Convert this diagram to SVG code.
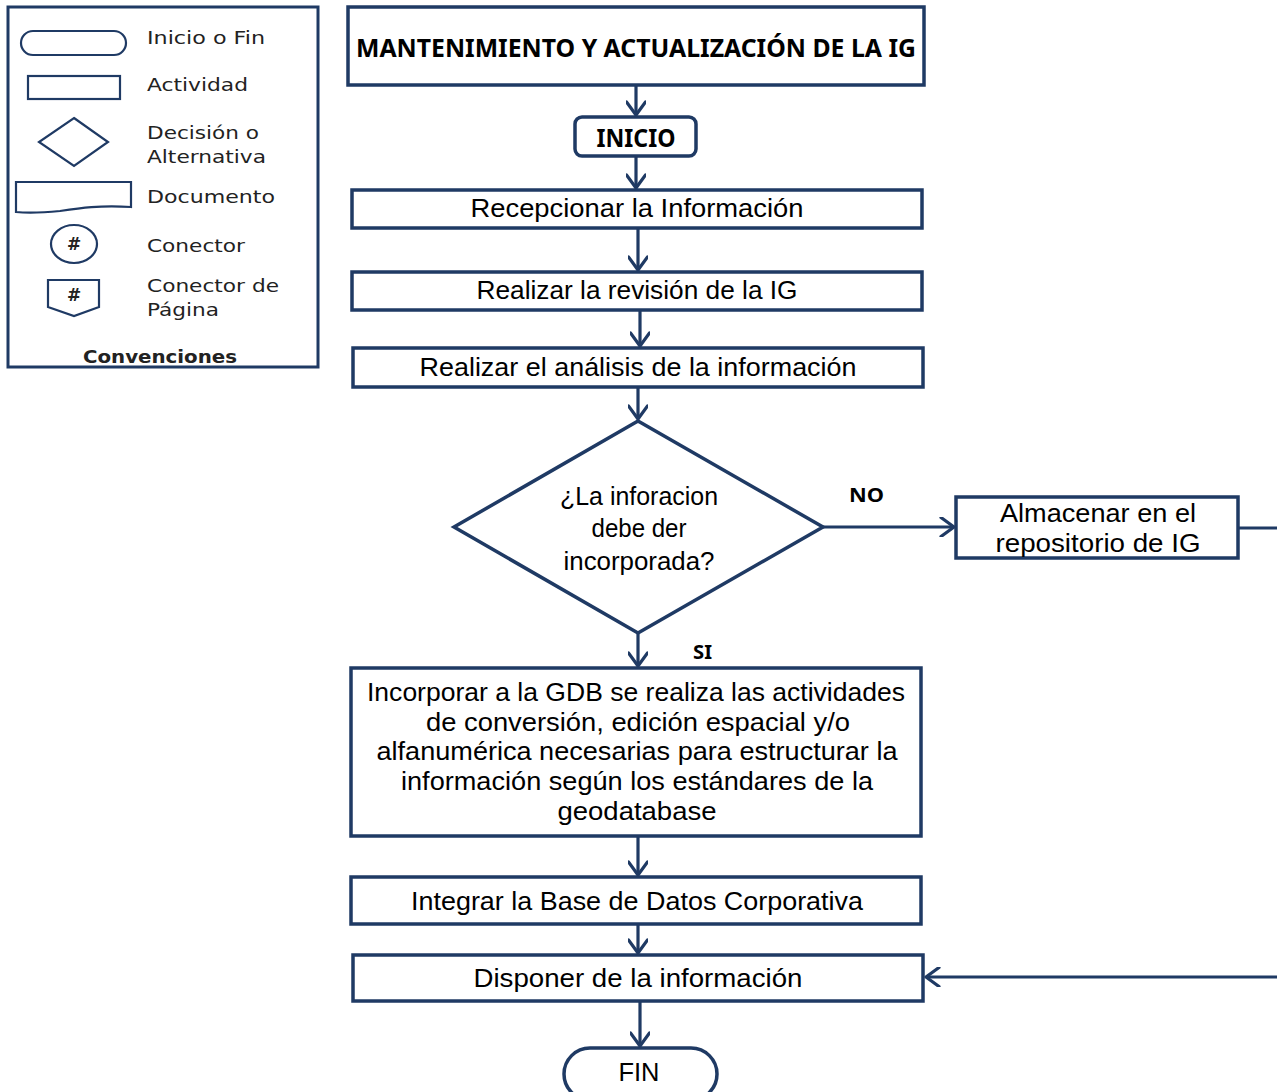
<svg xmlns="http://www.w3.org/2000/svg" width="1277" height="1092" viewBox="0 0 1277 1092">
<defs>
<marker id="arr" viewBox="0 0 20 20" refX="18" refY="10" markerWidth="20" markerHeight="20" markerUnits="userSpaceOnUse" orient="auto">
<path d="M5,0.5 L18,10 L5,19.5" fill="none" stroke="#1F3A64" stroke-width="3.2" stroke-linecap="round" stroke-linejoin="round"/>
</marker>
<style>
.box{fill:#fff;stroke:#1F3A64;stroke-width:3.5}
.lg{fill:#fff;stroke:#1F3A64;stroke-width:2.2}
.ln{fill:none;stroke:#1F3A64;stroke-width:3.2}
.t{font-family:"Liberation Sans","Noto Sans",sans-serif;font-size:26px;fill:#000;text-anchor:middle}
.tb{font-family:"Noto Sans","Open Sans",sans-serif;font-weight:bold;fill:#000}
.leg{font-family:"DejaVu Sans","Noto Sans",sans-serif;font-size:17px;fill:#222}
</style>
</defs>

<g id="legend">
<rect x="8" y="7" width="310" height="360" fill="#fff" stroke="#1F3A64" stroke-width="3"/>
<rect class="lg" x="21" y="31" width="105" height="24" rx="12"/>
<text class="leg" x="147" y="44" textLength="118" lengthAdjust="spacingAndGlyphs">Inicio o Fin</text>
<rect class="lg" x="28" y="76" width="92" height="23"/>
<text class="leg" x="147" y="91" textLength="101" lengthAdjust="spacingAndGlyphs">Actividad</text>
<path class="lg" d="M74,118 L108,142 L74,166 L39,142 Z"/>
<text class="leg" x="147" y="139" textLength="112" lengthAdjust="spacingAndGlyphs">Decisión o</text>
<text class="leg" x="147" y="163" textLength="119" lengthAdjust="spacingAndGlyphs">Alternativa</text>
<path class="lg" stroke-width="1.8" d="M16,182 L131,182 L131,207 C100,205 80,208 60,211 C40,213 25,213 16,212 Z"/>
<text class="leg" x="147" y="203" textLength="128" lengthAdjust="spacingAndGlyphs">Documento</text>
<ellipse class="lg" stroke-width="1.8" cx="74" cy="244" rx="23" ry="19"/>
<text class="leg" x="74" y="250" text-anchor="middle" font-weight="bold" font-size="15">#</text>
<text class="leg" x="147" y="252" textLength="98" lengthAdjust="spacingAndGlyphs">Conector</text>
<path class="lg" stroke-width="1.8" d="M48,280 L99,280 L99,307 L74,316 L48,307 Z"/>
<text class="leg" x="74" y="301" text-anchor="middle" font-weight="bold" font-size="15">#</text>
<text class="leg" x="147" y="292" textLength="132" lengthAdjust="spacingAndGlyphs">Conector de</text>
<text class="leg" x="147" y="316" textLength="72" lengthAdjust="spacingAndGlyphs">Página</text>
<text class="leg" x="160" y="363" text-anchor="middle" font-weight="bold" font-size="16" fill="#111" textLength="154" lengthAdjust="spacingAndGlyphs">Convenciones</text>
</g>

<g id="connectors">
<line class="ln" x1="636" y1="86" x2="636" y2="115" marker-end="url(#arr)"/>
<line class="ln" x1="636" y1="157" x2="636" y2="188" marker-end="url(#arr)"/>
<line class="ln" x1="638" y1="229" x2="638" y2="270" marker-end="url(#arr)"/>
<line class="ln" x1="640" y1="311" x2="640" y2="346" marker-end="url(#arr)"/>
<line class="ln" x1="638" y1="388" x2="638" y2="419" marker-end="url(#arr)"/>
<line class="ln" x1="823" y1="527" x2="954" y2="527" marker-end="url(#arr)"/>
<line class="ln" x1="1238" y1="528" x2="1277" y2="528"/>
<line class="ln" x1="638" y1="634" x2="638" y2="666" marker-end="url(#arr)"/>
<line class="ln" x1="638" y1="837" x2="638" y2="875" marker-end="url(#arr)"/>
<line class="ln" x1="638" y1="925" x2="638" y2="953" marker-end="url(#arr)"/>
<line class="ln" x1="1277" y1="977" x2="926" y2="977" marker-end="url(#arr)"/>
<line class="ln" x1="640" y1="1002" x2="640" y2="1046" marker-end="url(#arr)"/>
<text class="tb" x="849" y="502" font-size="20" textLength="35" lengthAdjust="spacingAndGlyphs">NO</text>
<text class="tb" x="693" y="659" font-size="20" textLength="19" lengthAdjust="spacingAndGlyphs">SI</text>
</g>

<g id="title">
<rect class="box" x="348" y="7" width="576" height="78"/>
<text class="tb" x="636" y="57" font-size="25" text-anchor="middle" textLength="560" lengthAdjust="spacingAndGlyphs">MANTENIMIENTO Y ACTUALIZACIÓN DE LA IG</text>
</g>

<g id="inicio">
<rect class="box" x="575" y="117" width="121" height="39" rx="7"/>
<text class="tb" x="636" y="147" font-size="25" text-anchor="middle" textLength="79" lengthAdjust="spacingAndGlyphs">INICIO</text>
</g>

<g id="recepcionar">
<rect class="box" x="352" y="190" width="570" height="38"/>
<text class="t" x="637" y="217" textLength="333" lengthAdjust="spacingAndGlyphs">Recepcionar la Información</text>
</g>

<g id="revision">
<rect class="box" x="352" y="272" width="570" height="38"/>
<text class="t" x="637" y="299" textLength="321" lengthAdjust="spacingAndGlyphs">Realizar la revisión de la IG</text>
</g>

<g id="analisis">
<rect class="box" x="353" y="348" width="570" height="39"/>
<text class="t" x="638" y="376" textLength="437" lengthAdjust="spacingAndGlyphs">Realizar el análisis de la información</text>
</g>

<g id="decision">
<path class="box" d="M638,421 L823,527 L638,633 L454,527 Z"/>
<text class="t" x="639" y="505" font-size="21" textLength="158" lengthAdjust="spacingAndGlyphs">¿La inforacion</text>
<text class="t" x="639" y="537" font-size="21" textLength="95" lengthAdjust="spacingAndGlyphs">debe der</text>
<text class="t" x="639" y="570" font-size="21" textLength="151" lengthAdjust="spacingAndGlyphs">incorporada?</text>
</g>

<g id="almacenar">
<rect class="box" x="956" y="497" width="282" height="61"/>
<text class="t" x="1098" y="522" font-size="24" textLength="196" lengthAdjust="spacingAndGlyphs">Almacenar en el</text>
<text class="t" x="1098" y="552" font-size="24" textLength="205" lengthAdjust="spacingAndGlyphs">repositorio de IG</text>
</g>

<g id="incorporar">
<rect class="box" x="351" y="668" width="570" height="168"/>
<text class="t" x="636" y="701" font-size="24" textLength="538" lengthAdjust="spacingAndGlyphs">Incorporar a  la GDB  se realiza las actividades</text>
<text class="t" x="638" y="731" font-size="24" textLength="424" lengthAdjust="spacingAndGlyphs">de conversión, edición espacial y/o</text>
<text class="t" x="637" y="760" font-size="24" textLength="521" lengthAdjust="spacingAndGlyphs">alfanumérica necesarias para estructurar la</text>
<text class="t" x="637" y="790" font-size="24" textLength="472" lengthAdjust="spacingAndGlyphs">información según los estándares de la</text>
<text class="t" x="637" y="820" font-size="24" textLength="159" lengthAdjust="spacingAndGlyphs">geodatabase</text>
</g>

<g id="integrar">
<rect class="box" x="351" y="877" width="570" height="47"/>
<text class="t" x="637" y="910" textLength="452" lengthAdjust="spacingAndGlyphs">Integrar la Base de Datos Corporativa</text>
</g>

<g id="disponer">
<rect class="box" x="353" y="955" width="570" height="46"/>
<text class="t" x="638" y="987" textLength="329" lengthAdjust="spacingAndGlyphs">Disponer de la información</text>
</g>

<g id="fin">
<rect class="box" x="564" y="1048" width="153" height="52" rx="26"/>
<text class="t" x="639" y="1081" textLength="41" lengthAdjust="spacingAndGlyphs">FIN</text>
</g>
</svg>
